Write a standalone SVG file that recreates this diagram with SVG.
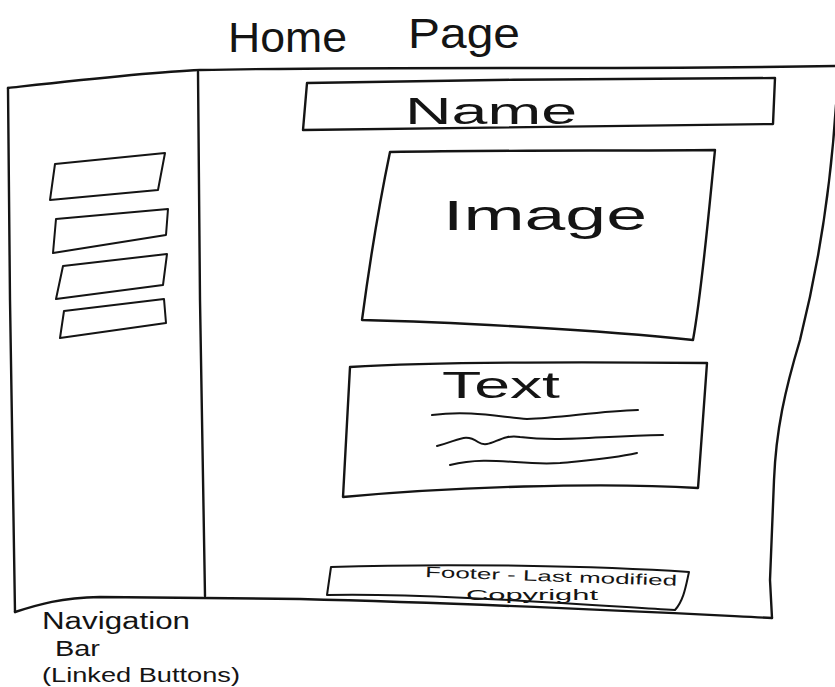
<svg xmlns="http://www.w3.org/2000/svg" width="835" height="687" viewBox="0 0 835 687">
<style>
.ln{fill:none;stroke:#141414;stroke-width:2.4;stroke-linejoin:round;stroke-linecap:round}
.thin{fill:none;stroke:#141414;stroke-width:2;stroke-linejoin:round;stroke-linecap:round}
.hw{font-family:"Liberation Sans","DejaVu Sans",sans-serif;fill:#141414}
</style>
<rect x="0" y="0" width="835" height="687" fill="#ffffff"/>
<g id="title">
<text class="hw" x="228" y="52" font-size="42" textLength="119" lengthAdjust="spacingAndGlyphs">Home</text>
<text class="hw" x="408" y="48" font-size="42" textLength="112" lengthAdjust="spacingAndGlyphs">Page</text>
</g>
<g id="frame">
<path class="ln" d="M8,88 C80,80 150,72 200,70 C400,66 600,70 836,66"/>
<path class="ln" d="M8,88 L10,300 L15,612"/>
<path class="ln" d="M15,612 C40,604 60,598 100,597 L300,599 C500,604 650,612 772,618"/>
<path class="ln" d="M836,105 C830,200 815,280 800,340 C785,390 776,430 774,480 L770,580 L772,618"/>
</g>
<g id="nav-bar">
<path class="ln" d="M198,72 L200,300 L205,596"/>
<g id="btn1"><path class="thin" d="M55,164 L165,153 L158,190 L50,200 Z"/></g>
<g id="btn2"><path class="thin" d="M56,219 L168,209 L166,235 L53,253 Z"/></g>
<g id="btn3"><path class="thin" d="M63,266 L167,254 L163,285 L56,299 Z"/></g>
<g id="btn4"><path class="thin" d="M64,311 L164,299 L166,323 L60,338 Z"/></g>
</g>
<g id="name">
<path class="ln" d="M307,83 C450,80 650,78 775,78 L773,124 C600,126 450,129 303,130 Z"/>
<text class="hw" x="405" y="124" font-size="36" textLength="172" lengthAdjust="spacingAndGlyphs">Name</text>
</g>
<g id="image">
<path class="ln" d="M390,152 C500,150 620,151 715,150 C708,220 702,290 693,340 C600,330 450,322 362,320 C370,260 380,200 390,152 Z"/>
<text class="hw" x="443" y="230" font-size="42" textLength="204" lengthAdjust="spacingAndGlyphs">Image</text>
</g>
<g id="text">
<path class="ln" d="M350,367 C450,361 600,362 707,363 L698,488 C600,482 450,487 343,497 Z"/>
<text class="hw" x="442" y="398" font-size="36" textLength="118" lengthAdjust="spacingAndGlyphs">Text</text>
<path class="thin" d="M432,415 C470,410 500,417 527,419 C560,418 600,411 638,410"/>
<path class="thin" d="M437,446 C460,440 465,433 478,442 C490,450 500,433 520,437 C560,442 600,436 663,435"/>
<path class="thin" d="M450,465 C490,455 520,466 560,463 C590,460 610,459 637,453"/>
</g>
<g id="footer">
<path class="thin" d="M331,567 C450,563 600,566 689,572 C686,585 684,600 675,610 C560,603 420,593 327,595 Z"/>
<text class="hw" x="425" y="577" font-size="15" textLength="252" lengthAdjust="spacingAndGlyphs" transform="rotate(2 425 577)">Footer - Last modified</text>
<text class="hw" x="466" y="600" font-size="15" textLength="132" lengthAdjust="spacingAndGlyphs">Copyright</text>
</g>
<g id="nav-label">
<text class="hw" x="42" y="629" font-size="23" textLength="148" lengthAdjust="spacingAndGlyphs">Navigation</text>
<text class="hw" x="55" y="656" font-size="22" textLength="45" lengthAdjust="spacingAndGlyphs">Bar</text>
<text class="hw" x="42" y="682" font-size="20" textLength="198" lengthAdjust="spacingAndGlyphs">(Linked Buttons)</text>
</g>
</svg>
